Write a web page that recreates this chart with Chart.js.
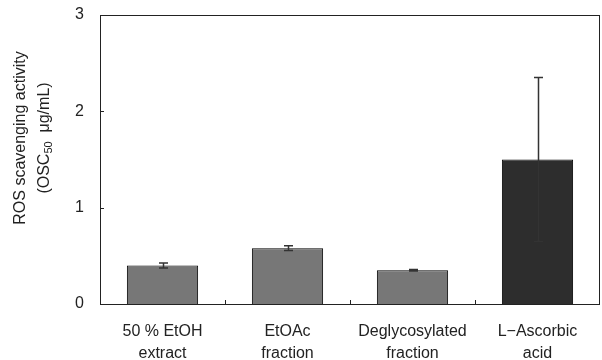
<!DOCTYPE html>
<html>
<head>
<meta charset="utf-8">
<script src="https://cdn.jsdelivr.net/npm/chart.js@4"></script>
<style>
  html, body { margin: 0; padding: 0; background: #fff; }
  #wrap { width: 602px; height: 360px; position: relative; }
</style>
</head>
<body>
<div id="wrap"><canvas id="chart"></canvas></div>
<script>
// ---------- Data ----------
const categories = [
  ['50 % EtOH', 'extract'],
  ['EtOAc', 'fraction'],
  ['Deglycosylated', 'fraction'],
  ['L\u2212Ascorbic', 'acid']
];
const values = [0.40, 0.58, 0.35, 1.50];
const errors = [0.025, 0.024, 0.008, 0.85];
const barColors = ['#777777', '#777777', '#777777', '#2d2d2d'];
const yTicks = [0, 1, 2, 3];
const yTitleLine1 = 'ROS scavenging activity';
const yTitleLine2 = ['(OSC', '50', '  \u03bcg/mL)'];

const FONT = '"Liberation Sans", Arial, sans-serif';
const INK = '#222';

// Error bars, drawn from the errors array through the y scale
const errorBars = {
  id: 'errorBars',
  afterDatasetsDraw(chart){
    const {ctx, scales:{y}} = chart;
    const meta = chart.getDatasetMeta(0);
    ctx.save();
    ctx.strokeStyle = '#333';
    ctx.lineWidth = 1.5;
    meta.data.forEach((bar, i)=>{
      const hi = y.getPixelForValue(values[i] + errors[i]);
      const lo = y.getPixelForValue(values[i] - errors[i]);
      const x = Math.round(bar.x) + 0.5;
      ctx.beginPath();
      ctx.moveTo(x, hi); ctx.lineTo(x, lo);
      ctx.moveTo(x - 4.5, hi); ctx.lineTo(x + 4.5, hi);
      ctx.moveTo(x - 4.5, lo); ctx.lineTo(x + 4.5, lo);
      ctx.stroke();
    });
    ctx.restore();
  }
};

// Plot box plus small inward ticks
const frame = {
  id: 'frame',
  afterDraw(chart){
    const {ctx, chartArea:a, scales:{x, y}} = chart;
    ctx.save();
    ctx.strokeStyle = INK;
    ctx.lineWidth = 1;
    ctx.strokeRect(Math.round(a.left) + 0.5, Math.round(a.top) + 0.5,
      Math.round(a.right - a.left) - 1, Math.round(a.bottom - a.top));
    ctx.beginPath();
    yTicks.forEach(v=>{
      const py = Math.round(y.getPixelForValue(v)) + 0.5;
      ctx.moveTo(a.left, py); ctx.lineTo(a.left + 4, py);
    });
    for (let i = 1; i < categories.length; i++){
      const px = Math.round((x.getPixelForValue(i - 1) + x.getPixelForValue(i)) / 2) + 0.5;
      ctx.moveTo(px, a.bottom); ctx.lineTo(px, a.bottom - 4);
    }
    ctx.stroke();

    // y axis title, two lines with subscript
    const cy = 138;
    ctx.fillStyle = INK;
    ctx.textBaseline = 'alphabetic';
    ctx.translate(0, cy);
    ctx.rotate(-Math.PI / 2);
    ctx.font = '16px ' + FONT;
    ctx.textAlign = 'center';
    ctx.fillText(yTitleLine1, 0, 25);
    // line 2: measure pieces
    const big = '16px ' + FONT, small = '11px ' + FONT;
    ctx.font = big; const w1 = ctx.measureText(yTitleLine2[0]).width;
    const w3 = ctx.measureText(yTitleLine2[2]).width;
    ctx.font = small; const w2 = ctx.measureText(yTitleLine2[1]).width;
    let sx = -(w1 + w2 + w3) / 2;
    ctx.textAlign = 'left';
    ctx.font = big; ctx.fillText(yTitleLine2[0], sx, 49); sx += w1;
    ctx.font = small; ctx.fillText(yTitleLine2[1], sx, 52); sx += w2;
    ctx.font = big; ctx.fillText(yTitleLine2[2], sx, 49);
    ctx.restore();
  }
};

Chart.defaults.font.family = FONT;
Chart.defaults.color = INK;

new Chart(document.getElementById('chart').getContext('2d'), {
  type: 'bar',
  data: {
    labels: categories,
    datasets: [{
      data: values,
      backgroundColor: barColors,
      borderColor: '#000',
      borderWidth: 1,
      borderSkipped: 'bottom',
      categoryPercentage: 1,
      barPercentage: 0.57
    }]
  },
  options: {
    responsive: true,
    maintainAspectRatio: false,
    animation: false,
    layout: {padding: {top: 15, right: 2, left: 0, bottom: 0}},
    plugins: {legend: {display: false}, tooltip: {enabled: false}},
    scales: {
      x: {
        grid: {display: false},
        border: {display: false},
        ticks: {font: {size: 16, lineHeight: 1.375}, padding: 9, maxRotation: 0, autoSkip: false},
        afterFit: (s)=>{ s.height = 56; s.paddingLeft = 0; s.paddingRight = 0; }
      },
      y: {
        min: 0, max: 3,
        afterBuildTicks: (s)=>{ s.ticks = yTicks.map(v=>({value: v})); },
        grid: {display: false},
        border: {display: false},
        ticks: {font: {size: 16}, padding: 8},
        afterFit: (s)=>{ s.width = 100; s.paddingTop = 0; s.paddingBottom = 0; }
      }
    }
  },
  plugins: [errorBars, frame]
});
</script>
</body>
</html>
